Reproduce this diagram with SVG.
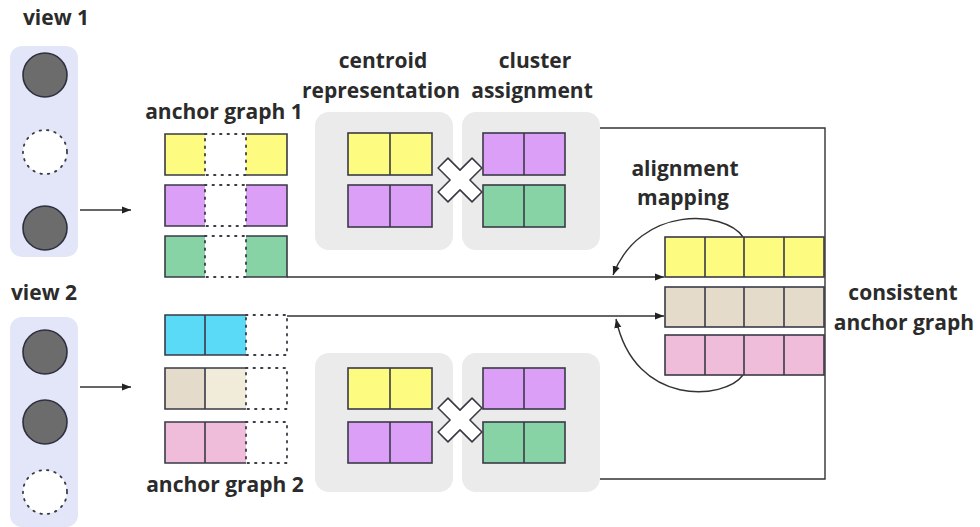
<svg xmlns="http://www.w3.org/2000/svg" width="980" height="527" viewBox="0 0 980 527">
<defs>
<style>
.t{font-family:"Open Sans","Noto Sans","DejaVu Sans",sans-serif;font-weight:bold;font-size:21px;fill:#2b2b2b;text-anchor:middle}
.vp{fill:#e3e6f8}
.gp{fill:#ebebeb}
.c{fill:#6c6c6c;stroke:#2e3040;stroke-width:1.6}
.cd{fill:#fff;stroke:#3a3a44;stroke-width:1.8;stroke-dasharray:1.5 6;stroke-linecap:round}
.b{stroke:#3a3a48;stroke-width:1.6}
.dot{fill:none;stroke:#3a3a44;stroke-width:1.8;stroke-dasharray:1.5 6;stroke-linecap:round}
.ln{fill:none;stroke:#333;stroke-width:1.4}
.y{fill:#fdfc80}.p{fill:#db9ff8}.g{fill:#87d3a6}.cy{fill:#5bdaf7}.be{fill:#e4dbcb}.be2{fill:#f1ebda}.pk{fill:#efbdda}
.x{fill:#fff;stroke:#3a3a44;stroke-width:1.6;stroke-linejoin:round}
</style>
<marker id="ah" viewBox="0 0 10 10" refX="10" refY="5" markerWidth="9" markerHeight="9" markerUnits="userSpaceOnUse" orient="auto">
<path d="M0,1 L10,5 L0,9 Z" fill="#222"/>
</marker>
<polygon id="cross" points="-7,-24 7,-24 7,-7 24,-7 24,7 7,7 7,24 -7,24 -7,7 -24,7 -24,-7 -7,-7" class="x" transform="rotate(45)"/>
</defs>

<g id="view1">
<text class="t" x="56" y="25">view 1</text>
<rect class="vp" x="10" y="46" width="68" height="211" rx="12"/>
<circle class="c" cx="45" cy="75" r="22"/>
<circle class="cd" cx="45" cy="152" r="22"/>
<circle class="c" cx="45" cy="228" r="22"/>
</g>

<g id="view2">
<text class="t" x="44" y="300">view 2</text>
<rect class="vp" x="10" y="317" width="68" height="210" rx="12"/>
<circle class="c" cx="45" cy="352" r="22"/>
<circle class="c" cx="45" cy="422" r="22"/>
<circle class="cd" cx="45" cy="492" r="22"/>
</g>

<g id="anchor-graph-1">
<text class="t" x="224" y="119">anchor graph 1</text>
<rect class="y" x="165" y="134" width="40" height="41"/>
<rect class="y" x="246" y="134" width="41" height="41"/>
<rect class="p" x="165" y="185" width="40" height="41"/>
<rect class="p" x="246" y="185" width="41" height="41"/>
<rect class="g" x="165" y="236" width="40" height="41"/>
<rect class="g" x="246" y="236" width="41" height="41"/>
<path class="b" fill="none" d="M205,134 H165 V175 H205 M205,185 H165 V226 H205 M205,236 H165 V277 H205 M246,134 H287 V175 H246 M246,185 H287 V226 H246 M246,236 H287 V277 H246"/>
<rect class="dot" x="205" y="134" width="41" height="41"/>
<rect class="dot" x="205" y="185" width="41" height="41"/>
<rect class="dot" x="205" y="236" width="41" height="41"/>
</g>

<g id="anchor-graph-2">
<text class="t" x="225" y="492">anchor graph 2</text>
<rect class="cy" x="165" y="315" width="81" height="40"/>
<rect class="be" x="165" y="368" width="40" height="41"/>
<rect class="be2" x="205" y="368" width="41" height="41"/>
<rect class="pk" x="165" y="422" width="81" height="41"/>
<path class="b" fill="none" d="M246,315 H165 V355 H246 M205,315 V355 M246,368 H165 V409 H246 M205,368 V409 M246,422 H165 V463 H246 M205,422 V463"/>
<rect class="dot" x="246" y="315" width="41" height="40"/>
<rect class="dot" x="246" y="368" width="41" height="41"/>
<rect class="dot" x="246" y="422" width="41" height="41"/>
</g>

<g id="connectors">
<path class="ln" d="M80,210 H131" marker-end="url(#ah)"/>
<path class="ln" d="M80,387 H131" marker-end="url(#ah)"/>
<path class="ln" d="M600,128 H825 V479 H600"/>
<path class="ln" d="M287,277 H664" marker-end="url(#ah)"/>
<path class="ln" d="M287,316 H664" marker-end="url(#ah)"/>
<path class="ln" d="M743,237 C725,210 640,205 613,275" marker-end="url(#ah)"/>
<path class="ln" d="M743,375 C725,400 635,408 616,319" marker-end="url(#ah)"/>
</g>

<g id="labels">
<text class="t" x="383" y="68">centroid</text>
<text class="t" x="381" y="98">representation</text>
<text class="t" x="535" y="68">cluster</text>
<text class="t" x="532" y="98">assignment</text>
<text class="t" x="685" y="176">alignment</text>
<text class="t" x="683" y="205">mapping</text>
<text class="t" x="903" y="300">consistent</text>
<text class="t" x="904" y="330">anchor graph</text>
</g>

<g id="centroid-1">
<rect class="gp" x="315" y="112" width="138" height="138" rx="14"/>
<rect class="y b" x="348" y="133" width="84" height="42"/>
<path class="b" d="M390,133 V175"/>
<rect class="p b" x="348" y="185" width="84" height="42"/>
<path class="b" d="M390,185 V227"/>
</g>
<g id="cluster-1">
<rect class="gp" x="462" y="112" width="138" height="138" rx="14"/>
<rect class="p b" x="483" y="133" width="82" height="42"/>
<path class="b" d="M524,133 V175"/>
<rect class="g b" x="483" y="185" width="82" height="42"/>
<path class="b" d="M524,185 V227"/>
</g>
<g id="multiply-1"><use href="#cross" transform="translate(460,180)"/></g>

<g id="centroid-2">
<rect class="gp" x="315" y="353" width="138" height="139" rx="14"/>
<rect class="y b" x="348" y="368" width="84" height="41"/>
<path class="b" d="M390,368 V409"/>
<rect class="p b" x="348" y="422" width="84" height="41"/>
<path class="b" d="M390,422 V463"/>
</g>
<g id="cluster-2">
<rect class="gp" x="462" y="353" width="138" height="139" rx="14"/>
<rect class="p b" x="483" y="368" width="82" height="41"/>
<path class="b" d="M524,368 V409"/>
<rect class="g b" x="483" y="422" width="82" height="41"/>
<path class="b" d="M524,422 V463"/>
</g>
<g id="multiply-2"><use href="#cross" transform="translate(460,420)"/></g>

<g id="consistent-anchor-graph">
<rect class="y b" x="665" y="237" width="159" height="40"/>
<path class="b" d="M705,237 V277 M744,237 V277 M784,237 V277"/>
<rect class="be b" x="665" y="287" width="159" height="40"/>
<path class="b" d="M705,287 V327 M744,287 V327 M784,287 V327"/>
<rect class="pk b" x="665" y="335" width="159" height="40"/>
<path class="b" d="M705,335 V375 M744,335 V375 M784,335 V375"/>
</g>
</svg>
